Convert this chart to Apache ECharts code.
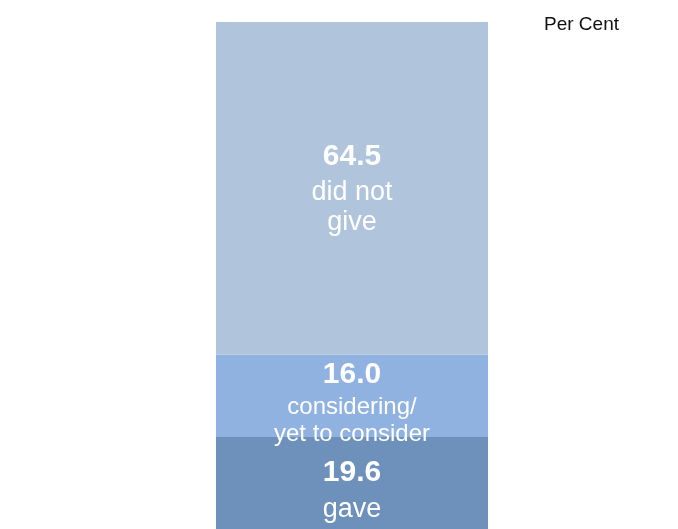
<!DOCTYPE html>
<html>
<head>
<meta charset="utf-8">
<script src="https://cdn.jsdelivr.net/npm/echarts@6/dist/echarts.min.js"></script>
<style>
  html, body { margin: 0; padding: 0; background: #fff; }
  #chart { width: 678px; height: 529px; }
</style>
</head>
<body>
<div id="chart"></div>
<script>
// Share of respondents by giving status (per cent), stacked bottom to top
const categories = ['Giving'];
const segmentNames = ['gave', 'considering/\nyet to consider', 'did not\ngive'];
const segmentValues = [19.6, 16.0, 64.5];
const unitLabel = 'Per Cent';

// Fill colour and label typography for each segment
const palette = ['#6d91ba', '#8fb2e1', '#b0c4dc'];
const labelStyles = [
  { vSize: 30, vLine: 45, tSize: 27, tLine: 30, dy: 0 },
  { vSize: 30, vLine: 38, tSize: 24, tLine: 27, dy: 6 },
  { vSize: 30, vLine: 43, tSize: 27, tLine: 30, dy: -2 }
];

const total = segmentValues.reduce((a, b) => a + b, 0);

const chart = echarts.init(document.getElementById('chart'), null, { renderer: 'canvas' });

const series = segmentValues.map((v, i) => {
  const s = labelStyles[i];
  return {
    name: segmentNames[i],
    type: 'bar',
    stack: 'share',
    barWidth: '100%',
    clip: false,
    data: [v],
    itemStyle: { color: palette[i] },
    label: {
      show: true,
      position: 'inside',
      offset: [0, s.dy],
      formatter: () => {
        const lines = segmentNames[i].split('\n').map(t => '{t|' + t + '}');
        return ['{v|' + v.toFixed(1) + '}'].concat(lines).join('\n');
      },
      rich: {
        v: { fontFamily: 'Liberation Sans', fontWeight: 'bold', fontSize: s.vSize, color: '#fff', lineHeight: s.vLine },
        t: { fontFamily: 'Liberation Sans', fontSize: s.tSize, color: '#fff', lineHeight: s.tLine }
      }
    },
    emphasis: { disabled: true }
  };
});

chart.setOption({
  animation: false,
  title: {
    text: unitLabel,
    left: 539,
    top: 10,
    textStyle: { fontFamily: 'Liberation Sans', fontWeight: 'normal', fontSize: 19, color: '#111' }
  },
  // the bar runs past the lower edge of the canvas
  grid: { left: 216, top: 22, width: 272, height: 516, outerBoundsMode: 'none', containLabel: false },
  xAxis: { type: 'category', data: categories, show: false },
  yAxis: { type: 'value', min: 0, max: total, show: false },
  series: series
});
</script>
</body>
</html>
